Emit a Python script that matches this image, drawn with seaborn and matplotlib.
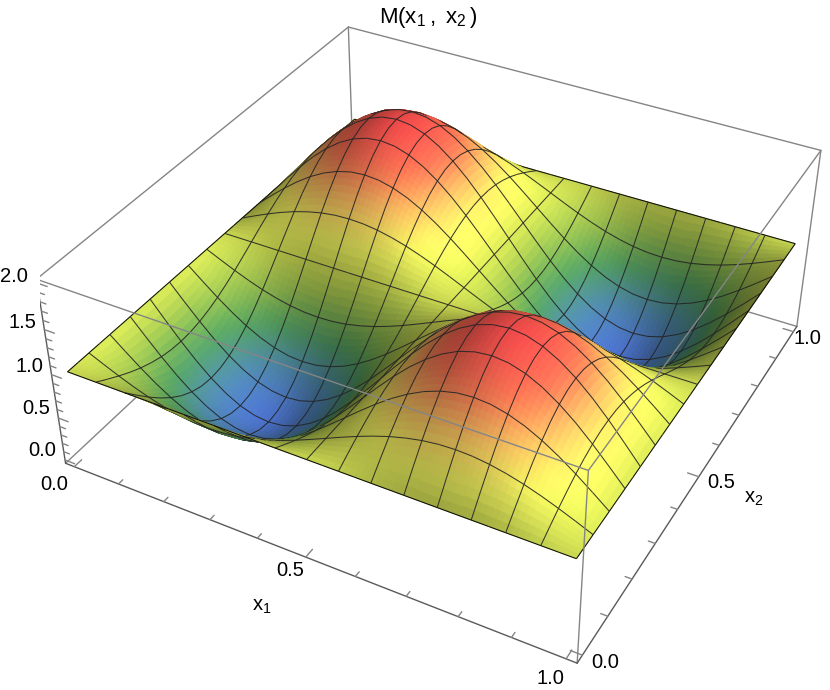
import numpy as np
import matplotlib
matplotlib.use("Agg")
import matplotlib.pyplot as plt
import seaborn as sns
from mpl_toolkits.mplot3d.art3d import Poly3DCollection

# surface heights, on a 33 x 33 grid (rows repeat because of the symmetry)
flat = [1.0] * 33
low_1 = [1,.962,.925,.892,.862,.838,.82,.809,.805,.809,.82,.838,.862,.892,.925,.962,1,1.038,1.075,1.108,1.138,1.162,1.18,1.191,1.195,1.191,1.18,1.162,1.138,1.108,1.075,1.038,1]
low_2 = [1,.925,.853,.787,.729,.682,.646,.624,.617,.624,.646,.682,.729,.787,.853,.925,1,1.075,1.147,1.213,1.271,1.318,1.354,1.376,1.383,1.376,1.354,1.318,1.271,1.213,1.147,1.075,1]
low_3 = [1,.892,.787,.691,.607,.538,.486,.455,.444,.455,.486,.538,.607,.691,.787,.892,1,1.108,1.213,1.309,1.393,1.462,1.514,1.545,1.556,1.545,1.514,1.462,1.393,1.309,1.213,1.108,1]
low_4 = [1,.862,.729,.607,.5,.412,.347,.306,.293,.306,.347,.412,.5,.607,.729,.862,1,1.138,1.271,1.393,1.5,1.588,1.653,1.694,1.707,1.694,1.653,1.588,1.5,1.393,1.271,1.138,1]
low_5 = [1,.838,.682,.538,.412,.309,.232,.185,.169,.185,.232,.309,.412,.538,.682,.838,1,1.162,1.318,1.462,1.588,1.691,1.768,1.815,1.831,1.815,1.768,1.691,1.588,1.462,1.318,1.162,1]
low_6 = [1,.82,.646,.486,.347,.232,.146,.094,.076,.094,.146,.232,.347,.486,.646,.82,1,1.18,1.354,1.514,1.653,1.768,1.854,1.906,1.924,1.906,1.854,1.768,1.653,1.514,1.354,1.18,1]
low_7 = [1,.809,.624,.455,.306,.185,.094,.038,.019,.038,.094,.185,.306,.455,.624,.809,1,1.191,1.376,1.545,1.694,1.815,1.906,1.962,1.981,1.962,1.906,1.815,1.694,1.545,1.376,1.191,1]
low_8 = [1,.805,.617,.444,.293,.169,.076,.019,0,.019,.076,.169,.293,.444,.617,.805,1,1.195,1.383,1.556,1.707,1.831,1.924,1.981,2,1.981,1.924,1.831,1.707,1.556,1.383,1.195,1]
high_1 = [1,1.038,1.075,1.108,1.138,1.162,1.18,1.191,1.195,1.191,1.18,1.162,1.138,1.108,1.075,1.038,1,.962,.925,.892,.862,.838,.82,.809,.805,.809,.82,.838,.862,.892,.925,.962,1]
high_2 = [1,1.075,1.147,1.213,1.271,1.318,1.354,1.376,1.383,1.376,1.354,1.318,1.271,1.213,1.147,1.075,1,.925,.853,.787,.729,.682,.646,.624,.617,.624,.646,.682,.729,.787,.853,.925,1]
high_3 = [1,1.108,1.213,1.309,1.393,1.462,1.514,1.545,1.556,1.545,1.514,1.462,1.393,1.309,1.213,1.108,1,.892,.787,.691,.607,.538,.486,.455,.444,.455,.486,.538,.607,.691,.787,.892,1]
high_4 = [1,1.138,1.271,1.393,1.5,1.588,1.653,1.694,1.707,1.694,1.653,1.588,1.5,1.393,1.271,1.138,1,.862,.729,.607,.5,.412,.347,.306,.293,.306,.347,.412,.5,.607,.729,.862,1]
high_5 = [1,1.162,1.318,1.462,1.588,1.691,1.768,1.815,1.831,1.815,1.768,1.691,1.588,1.462,1.318,1.162,1,.838,.682,.538,.412,.309,.232,.185,.169,.185,.232,.309,.412,.538,.682,.838,1]
high_6 = [1,1.18,1.354,1.514,1.653,1.768,1.854,1.906,1.924,1.906,1.854,1.768,1.653,1.514,1.354,1.18,1,.82,.646,.486,.347,.232,.146,.094,.076,.094,.146,.232,.347,.486,.646,.82,1]
high_7 = [1,1.191,1.376,1.545,1.694,1.815,1.906,1.962,1.981,1.962,1.906,1.815,1.694,1.545,1.376,1.191,1,.809,.624,.455,.306,.185,.094,.038,.019,.038,.094,.185,.306,.455,.624,.809,1]
high_8 = [1,1.195,1.383,1.556,1.707,1.831,1.924,1.981,2,1.981,1.924,1.831,1.707,1.556,1.383,1.195,1,.805,.617,.444,.293,.169,.076,.019,0,.019,.076,.169,.293,.444,.617,.805,1]
m_rows = [flat, low_1, low_2, low_3, low_4, low_5, low_6, low_7, low_8, low_7, low_6, low_5, low_4, low_3, low_2, low_1,
          flat, high_1, high_2, high_3, high_4, high_5, high_6, high_7, high_8, high_7, high_6, high_5, high_4, high_3, high_2, high_1, flat]

x_ticks = [0, .1, .2, .3, .4, .5, .6, .7, .8, .9, 1]
y_ticks = [0, .1, .2, .3, .4, .5, .6, .7, .8, .9, 1]
z_ticks = [0, .1, .2, .3, .4, .5, .6, .7, .8, .9, 1, 1.1, 1.2, 1.3, 1.4, 1.5, 1.6, 1.7, 1.8, 1.9, 2]
major_xy = [0, .5, 1]
major_z = [0, .5, 1, 1.5, 2]

# height colours
height_stops = ["#4a70c8", "#4c86a0", "#4f9a5a", "#93b84c", "#c8d650", "#f8f862", "#fdc062", "#f87252", "#e84848"]

XLIM = (-0.02, 1.02)
YLIM = (-0.02, 1.02)
ZLIM = (-0.04, 2.04)
ELEV, AZIM = 36.2, -61.6
DIST = 3.38
Z_RATIO = 0.4
SHADE_STEPS = 3  # gradient steps inside one table cell


def toward_eye(pts, t=0.012):
    """Slides points along the view ray, so mesh lines sort just in front of their facets."""
    e, a = np.radians(ELEV), np.radians(AZIM)
    d = np.array([np.cos(e) * np.cos(a), np.cos(e) * np.sin(a), np.sin(e)])
    eye = np.array([0.5, 0.5, Z_RATIO / 2]) + DIST * d
    low = np.array([XLIM[0], YLIM[0], ZLIM[0]])
    scale = np.array([XLIM[1] - XLIM[0], YLIM[1] - YLIM[0], (ZLIM[1] - ZLIM[0]) / Z_RATIO])
    box = (pts - low) / scale
    return low + (box + t * (eye - box)) * scale


sns.set_theme(style="white")
plt.rcParams["font.family"] = ["Liberation Sans", "DejaVu Sans"]
plt.rcParams["mathtext.default"] = "regular"
plt.rcParams["text.color"] = "black"

cmap = sns.blend_palette(height_stops, as_cmap=True)

Z = np.array(m_rows)
n = Z.shape[0]
xs = np.array([i / (n - 1) for i in range(n)])
ys = xs.copy()

# vertex colours: height colour times a simple light from the +x side
z_scale = Z_RATIO / (ZLIM[1] - ZLIM[0])
dzx, dzy = np.gradient(Z * z_scale, xs, ys)
norm = np.sqrt(dzx ** 2 + dzy ** 2 + 1)
lit = (0.6 * -dzx + 0.05 * dzy + 0.8) / norm
shade = np.interp(lit, [0, 0.5, 0.8, 1], [0.52, 0.72, 1, 1.12])
vertex_rgb = np.clip(cmap(Z / 2)[..., :3] * shade[..., None], 0, 1)

# every cell is painted as a small gradient between its four table corners
facets, facet_colors = [], []
w = np.linspace(0, 1, SHADE_STEPS + 1)
for i in range(n - 1):
    for j in range(n - 1):
        for a in range(SHADE_STEPS):
            for b in range(SHADE_STEPS):
                quad = []
                rgb = np.zeros(3)
                for u, v in [(w[a], w[b]), (w[a + 1], w[b]), (w[a + 1], w[b + 1]), (w[a], w[b + 1])]:
                    c = np.array([(1 - u) * (1 - v), u * (1 - v), u * v, (1 - u) * v])
                    h = c @ [Z[i, j], Z[i + 1, j], Z[i + 1, j + 1], Z[i, j + 1]]
                    quad.append([xs[i] + u * (xs[i + 1] - xs[i]), ys[j] + v * (ys[j + 1] - ys[j]), h])
                    rgb += (c[0] * vertex_rgb[i, j] + c[1] * vertex_rgb[i + 1, j]
                            + c[2] * vertex_rgb[i + 1, j + 1] + c[3] * vertex_rgb[i, j + 1]) / 4
                facets.append(quad)
                facet_colors.append([*rgb, 1.0])

segments, mesh_colors = [], []
INNER = [0.14, 0.14, 0.14, 0.9]
BORDER = [0.05, 0.05, 0.05, 1.0]
for i in range(0, n, 2):
    tone = BORDER if i in (0, n - 1) else INNER
    for j in range(n - 1):
        p = [xs[i], ys[j], Z[i, j]]
        q = [xs[i], ys[j + 1], Z[i, j + 1]]
        segments.append([p, q, q, p])
        mesh_colors.append(tone)
        p = [xs[j], ys[i], Z[j, i]]
        q = [xs[j + 1], ys[i], Z[j + 1, i]]
        segments.append([p, q, q, p])
        mesh_colors.append(tone)
segments = toward_eye(np.array(segments))

polys = np.concatenate([np.array(facets), segments])
face = np.concatenate([np.array(facet_colors), np.array(mesh_colors)])

S = 795
fig = plt.figure(figsize=(8.3, 6.9), dpi=100)
ax = fig.add_axes([40 / 830, -23 / 690, S / 830, S / 690], projection="3d")
ax.set_proj_type("persp", focal_length=DIST * 1.2965 / 10)
ax.view_init(elev=ELEV, azim=AZIM)
ax.set_box_aspect((1, 1, Z_RATIO))
ax.computed_zorder = False
ax.set_axis_off()

surface = Poly3DCollection(polys, facecolors=face, edgecolors=face, linewidths=0.75, zorder=2)
ax.add_collection3d(surface)

x0, x1 = XLIM
y0, y1 = YLIM
z0, z1 = ZLIM
GRAY = "#858585"
DARK = "#5a5a5a"


def edge(p, q, color, z):
    ax.plot([p[0], q[0]], [p[1], q[1]], [p[2], q[2]], color=color, lw=1.0, zorder=z)


# back edges stay behind the surface, the others go over it
edge((x0, y1, z0), (x0, y1, z1), GRAY, 1)
edge((x0, y1, z0), (x0, y0, z0), GRAY, 1)
edge((x0, y1, z0), (x1, y1, z0), GRAY, 1)
edge((x0, y0, z1), (x0, y1, z1), GRAY, 3)
edge((x0, y1, z1), (x1, y1, z1), GRAY, 3)
edge((x0, y0, z1), (x1, y0, z1), GRAY, 3)
edge((x1, y0, z1), (x1, y1, z1), GRAY, 3)
edge((x1, y0, z0), (x1, y0, z1), GRAY, 3)
edge((x1, y1, z0), (x1, y1, z1), GRAY, 3)
edge((x0, y0, z0), (x1, y0, z0), DARK, 3)
edge((x1, y0, z0), (x1, y1, z0), DARK, 3)
edge((x0, y0, z0), (x0, y0, z1), DARK, 3)

for t in x_ticks:
    size = 0.022 if t in major_xy else 0.013
    edge((t, y0, z0), (t, y0 + size, z0), GRAY, 3)
for t in y_ticks:
    size = 0.022 if t in major_xy else 0.013
    edge((x1, t, z0), (x1 - size, t, z0), GRAY, 3)
for t in z_ticks:
    size = 0.022 if t in major_z else 0.013
    edge((x0, y0, t), (x0 + size, y0, t), GRAY, 3)

ax.set_xlim(x0, x1)
ax.set_ylim(y0, y1)
ax.set_zlim(z0, z1)


def label(px, py, text, size=14.5):
    fig.text(px / 830, 1 - py / 690, text, ha="center", va="center", fontsize=size, color="black")


for px, py, text in [(14, 276, "2.0"), (22, 322, "1.5"), (29, 367, "1.0"), (36, 409, "0.5"), (42, 451, "0.0"),
                     (54, 484, "0.0"), (290, 571, "0.5"), (550, 678, "1.0"),
                     (605, 663, "0.0"), (721, 483, "0.5"), (807, 338, "1.0"),
                     (262, 606, "x$_1$"), (754, 498, "x$_2$")]:
    label(px, py, text)
label(428, 17, r"M(x$_{1}\,$,$\,$ x$_{2}\,$)", size=16)

fig.savefig("out.png", dpi=100, facecolor="white")
